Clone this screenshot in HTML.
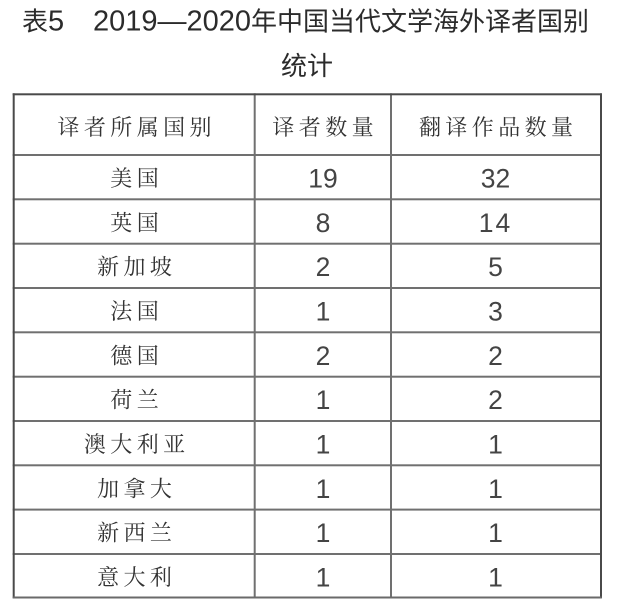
<!DOCTYPE html>
<html>
<head>
<meta charset="utf-8">
<style>
html,body{margin:0;padding:0;background:#fff;}
body{width:619px;height:616px;overflow:hidden;}
svg{display:block;}
.t{font-family:"Liberation Sans","Noto Sans CJK SC",sans-serif;fill:#2b2b2b;}
.c{font-family:"Noto Serif CJK SC","Liberation Serif",serif;font-size:22px;fill:#333;letter-spacing:4.4px;}
.d{font-family:"Liberation Sans",sans-serif;font-size:26.5px;fill:#444;text-anchor:middle;}
</style>
</head>
<body>
<svg width="619" height="616" viewBox="0 0 619 616" xmlns="http://www.w3.org/2000/svg">
  <rect width="619" height="616" fill="#fff"/>
  <!-- Title -->
  <text class="t" y="30.5">
    <tspan x="22" font-family="Noto Sans CJK SC, sans-serif" font-size="26">表</tspan><tspan font-size="29">5</tspan>
    <tspan x="93" font-size="29">2019—2020</tspan><tspan font-family="Noto Sans CJK SC, sans-serif" font-size="26">年中国当代文学海外译者国别</tspan>
  </text>
  <text class="t" x="281" y="75" font-family="Noto Sans CJK SC, sans-serif" font-size="26">统计</text>

  <!-- Table lines -->
  <g fill="#707070">
    <rect x="253.7" y="93.3" width="2" height="505"/>
    <rect x="390" y="93.3" width="2" height="505"/>
    <rect x="12.7" y="154" width="589" height="2"/>
    <rect x="12.7" y="198.3" width="589" height="2"/>
    <rect x="12.7" y="242.7" width="589" height="2"/>
    <rect x="12.7" y="287" width="589" height="2"/>
    <rect x="12.7" y="331.3" width="589" height="2"/>
    <rect x="12.7" y="375.7" width="589" height="2"/>
    <rect x="12.7" y="420" width="589" height="2"/>
    <rect x="12.7" y="464.3" width="589" height="2"/>
    <rect x="12.7" y="508.6" width="589" height="2"/>
    <rect x="12.7" y="553" width="589" height="2"/>
  </g>
  <g fill="#4a4a4a">
    <rect x="12.7" y="93.3" width="589" height="2"/>
    <rect x="12.7" y="93.3" width="2" height="505"/>
    <rect x="600" y="93.3" width="2" height="505"/>
  </g>
  <rect x="12.7" y="596.5" width="589" height="2" fill="#6a6a6a"/>

  <!-- Header -->
  <text class="c" x="57.5" y="135">译者所属国别</text>
  <text class="c" x="272.4" y="135">译者数量</text>
  <text class="c" x="419" y="135">翻译作品数量</text>

  <!-- Column 1 -->
  <text class="c" x="110.3" y="186">美国</text>
  <text class="c" x="110.3" y="230.3">英国</text>
  <text class="c" x="97.1" y="274.7">新加坡</text>
  <text class="c" x="110.3" y="319">法国</text>
  <text class="c" x="110.3" y="363.3">德国</text>
  <text class="c" x="110.3" y="407.7">荷兰</text>
  <text class="c" x="83.9" y="452">澳大利亚</text>
  <text class="c" x="97.1" y="496.3">加拿大</text>
  <text class="c" x="97.1" y="540.6">新西兰</text>
  <text class="c" x="97.1" y="585">意大利</text>

  <!-- Column 2 -->
  <text class="d" x="323" y="187.5">19</text>
  <text class="d" x="323" y="231.8">8</text>
  <text class="d" x="323" y="276.2">2</text>
  <text class="d" x="323" y="320.5">1</text>
  <text class="d" x="323" y="364.8">2</text>
  <text class="d" x="323" y="409.2">1</text>
  <text class="d" x="323" y="453.5">1</text>
  <text class="d" x="323" y="497.8">1</text>
  <text class="d" x="323" y="542.1">1</text>
  <text class="d" x="323" y="586.5">1</text>

  <!-- Column 3 -->
  <text class="d" x="495.5" y="187.5">32</text>
  <text class="d" x="495.5" y="231.8" letter-spacing="2">14</text>
  <text class="d" x="495.5" y="276.2">5</text>
  <text class="d" x="495.5" y="320.5">3</text>
  <text class="d" x="495.5" y="364.8">2</text>
  <text class="d" x="495.5" y="409.2">2</text>
  <text class="d" x="495.5" y="453.5">1</text>
  <text class="d" x="495.5" y="497.8">1</text>
  <text class="d" x="495.5" y="542.1">1</text>
  <text class="d" x="495.5" y="586.5">1</text>
</svg>
</body>
</html>
